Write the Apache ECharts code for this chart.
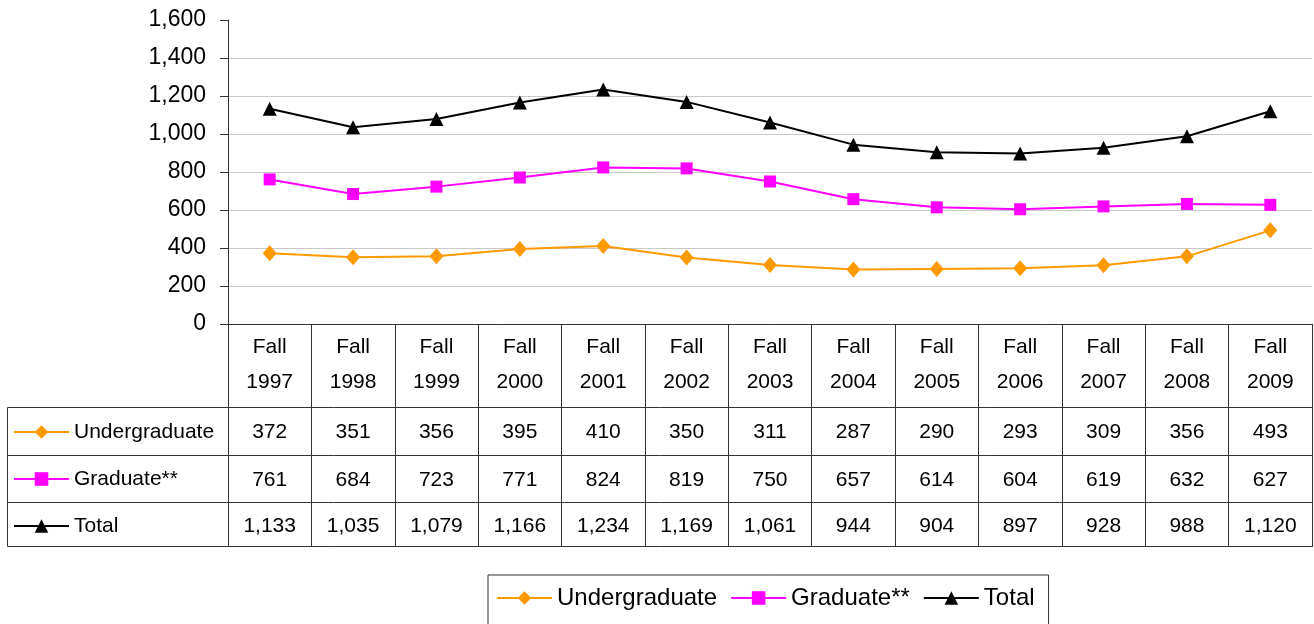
<!DOCTYPE html>
<html>
<head>
<meta charset="utf-8">
<script src="https://cdn.jsdelivr.net/npm/echarts@6/dist/echarts.min.js"></script>
<style>
  html, body { margin: 0; padding: 0; background: #fff; }
  #chart { width: 1314px; height: 624px; }
</style>
</head>
<body>
<div id="chart"></div>
<script>
const years = ['1997', '1998', '1999', '2000', '2001', '2002', '2003', '2004', '2005', '2006', '2007', '2008', '2009'];
const undergraduate = [372, 351, 356, 395, 410, 350, 311, 287, 290, 293, 309, 356, 493];
const graduate = [761, 684, 723, 771, 824, 819, 750, 657, 614, 604, 619, 632, 627];
const total = [1133, 1035, 1079, 1166, 1234, 1169, 1061, 944, 904, 897, 928, 988, 1120];
const seriesNames = ['Undergraduate', 'Graduate**', 'Total'];

const font = '"Liberation Sans", Arial, sans-serif';
const fmt = v => v.toLocaleString('en-US');
const border = '#333';

// table row: an extra category axis under the grid, only its labels shown
const tableRow = (values, offset) => ({
    type: 'category',
    gridIndex: 0,
    position: 'bottom',
    offset: offset,
    data: values.map(fmt),
    axisLine: { show: false },
    axisTick: { show: false },
    splitLine: { show: false },
    axisLabel: { interval: 0, margin: 0, fontSize: 21, lineHeight: 24, color: '#000', fontFamily: font }
});

const hLine = (y) => ({
    type: 'line',
    shape: { x1: 7.5, y1: y, x2: 1312, y2: y },
    style: { stroke: border, lineWidth: 1 },
    silent: true
});

const chart = echarts.init(document.getElementById('chart'));
chart.setOption({
    animation: false,
    textStyle: { fontFamily: font },
    grid: { left: 228, right: 2, top: 20, bottom: 300 },
    legend: [
        {
            data: seriesNames,
            left: 488,
            top: 575,
            padding: [11, 14, 20, 8],
            borderColor: border,
            borderWidth: 1,
            itemWidth: 55,
            itemHeight: 17,
            itemGap: 13,
            textStyle: { fontSize: 24, color: '#000', fontFamily: font }
        },
        {
            data: seriesNames,
            orient: 'vertical',
            left: 13,
            top: 420,
            padding: 0,
            itemWidth: 55,
            itemHeight: 17,
            itemGap: 23,
            textStyle: { fontSize: 21, lineHeight: 24, color: '#000', fontFamily: font }
        }
    ],
    xAxis: [
        {
            type: 'category',
            data: years.map(y => 'Fall\n' + y),
            boundaryGap: true,
            axisLine: { lineStyle: { color: border, width: 1 } },
            axisTick: { show: true, interval: 0, length: 223, lineStyle: { color: border } },
            axisLabel: { interval: 0, margin: 6, fontSize: 21, lineHeight: 35, color: '#000', fontFamily: font }
        },
        tableRow(undergraduate, 96),
        tableRow(graduate, 144),
        tableRow(total, 190)
    ],
    yAxis: {
        type: 'value',
        min: 0,
        max: 1600,
        interval: 200,
        axisLine: { show: true, lineStyle: { color: border } },
        axisTick: { show: true, length: 8, lineStyle: { color: border } },
        splitLine: { show: true, showMaxLine: false, lineStyle: { color: '#c8c8c8' } },
        axisLabel: { margin: 22, fontSize: 23, color: '#000', fontFamily: font, formatter: fmt }
    },
    series: [
        {
            name: seriesNames[0],
            type: 'line',
            data: undergraduate,
            symbol: 'diamond',
            symbolSize: [14, 16],
            itemStyle: { color: '#ff9900' },
            lineStyle: { color: '#ff9900', width: 2 }
        },
        {
            name: seriesNames[1],
            type: 'line',
            data: graduate,
            symbol: 'rect',
            symbolSize: 12,
            itemStyle: { color: '#ff00ff' },
            lineStyle: { color: '#ff00ff', width: 2 }
        },
        {
            name: seriesNames[2],
            type: 'line',
            data: total,
            symbol: 'triangle',
            symbolSize: 14,
            itemStyle: { color: '#000' },
            lineStyle: { color: '#000', width: 2 }
        }
    ],
    graphic: [
        hLine(407.5),
        hLine(455.5),
        hLine(502.5),
        hLine(546.5),
        {
            type: 'line',
            shape: { x1: 7.5, y1: 407.5, x2: 7.5, y2: 546.5 },
            style: { stroke: border, lineWidth: 1 },
            silent: true
        }
    ]
});
</script>
</body>
</html>
